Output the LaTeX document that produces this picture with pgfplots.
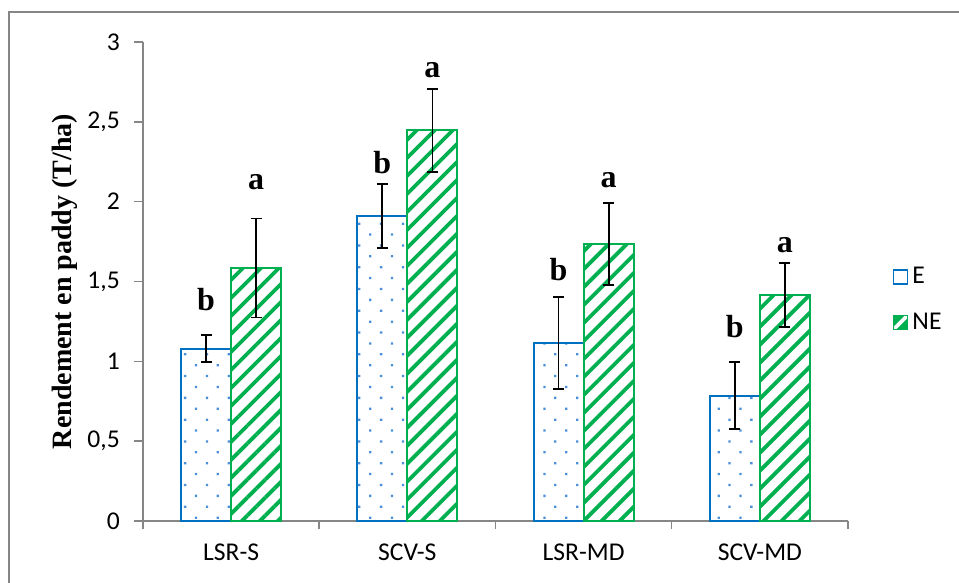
\documentclass[border=0pt]{standalone}
\usepackage{pgfplots}
\pgfplotsset{compat=1.18}
\usepackage{pgfplotstable}
\usepackage{fontspec}
\setmainfont{Carlito}
\newfontfamily\tnr{Liberation Serif}
\usetikzlibrary{patterns.meta}
\definecolor{eblue}{HTML}{0070C0}
\definecolor{dotblue}{HTML}{4A90D9}
\definecolor{negreen}{HTML}{00B050}
\definecolor{axgray}{HTML}{868686}

\pgfplotstableread{
x y e
-0.142 1.08 0.085
0.858 1.91 0.20
1.858 1.115 0.29
2.858 0.785 0.21
}\Edata
\pgfplotstableread{
x y e
0.142 1.585 0.31
1.142 2.448 0.26
2.142 1.735 0.255
3.142 1.415 0.20
}\NEdata

\begin{document}
\begin{tikzpicture}
\useasboundingbox (-71.5pt,-31pt) rectangle (408pt,260.5pt);
\begin{axis}[
  at={(0,0)}, anchor=south west,
  width=352.5pt, height=239.5pt, scale only axis,
  xmin=-0.5, xmax=3.5, ymin=0, ymax=3,
  axis lines*=left,
  x axis line style={axgray, line width=0.75pt, -},
  y axis line style={axgray, line width=0.75pt, -},
  tick align=outside,
  xtick={0,1,2,3},
  xticklabels={LSR-S,SCV-S,LSR-MD,SCV-MD},
  major x tick style={draw=none},
  minor xtick={-0.5,0.5,1.5,2.5,3.5},
  minor x tick style={axgray, line width=0.75pt},
  minor tick length=4pt,
  major tick length=4.5pt,
  ytick={0,0.5,1,1.5,2,2.5,3},
  ytick style={axgray, line width=0.75pt},
  /pgf/number format/use comma,
  /pgf/number format/assume math mode=true,
  tick label style={font=\fontsize{12.8}{15}\selectfont, black},
  xticklabel style={yshift=-3.3pt},
  yticklabel style={xshift=-3.6pt},
  ylabel={Rendement en paddy (T/ha)},
  ylabel style={font=\tnr\bfseries\fontsize{14}{16}\selectfont, at={(axis description cs:-0.1106,0.5)}, anchor=center},
  legend image code/.code={\draw[#1] (0pt,-3.5pt) rectangle (7pt,3.5pt);},
  legend style={draw=none, fill=none, at={(axis description cs:1.06,0.462)}, anchor=west,
    font=\fontsize{12.8}{15}\selectfont, row sep=9pt, inner sep=1pt},
  legend cell align=left,
  clip=false,
]
\addplot[ybar, bar width=0.284, bar shift=0pt, draw=eblue, line width=1pt, fill=white,
  postaction={pattern={Dots[radius=0.8pt, distance=7.7pt, angle=45]}, pattern color=dotblue},
  forget plot,
  error bars/.cd, y dir=both, y explicit,
  error bar style={black, line width=0.9pt},
  error mark options={black, rotate=90, mark size=2.75pt, line width=0.9pt}]
  table[x=x, y=y, y error=e] {\Edata};
\addplot[ybar, bar width=0.284, bar shift=0pt, draw=negreen, line width=1pt, fill=white,
  postaction={pattern={Lines[angle=45, distance=6.36pt, line width=1.9pt]}, pattern color=negreen},
  forget plot,
  error bars/.cd, y dir=both, y explicit,
  error bar style={black, line width=0.9pt},
  error mark options={black, rotate=90, mark size=2.75pt, line width=0.9pt}]
  table[x=x, y=y, y error=e] {\NEdata};
\addlegendimage{draw=eblue, line width=0.9pt, fill=white}
\addlegendentry{E}
\addlegendimage{legend image code/.code={
  \begin{scope}
  \clip (0pt,-3.5pt) rectangle (7pt,3.5pt);
  \fill[negreen] (0pt,-3.5pt) rectangle (7pt,3.5pt);
  \draw[white, line width=1.8pt] (0pt,-3.5pt) -- (7pt,3.5pt);
  \end{scope}
  \draw[negreen, line width=0.9pt] (0pt,-3.5pt) rectangle (7pt,3.5pt);}}
\addlegendentry{NE}
\begin{scope}[every node/.style={font=\tnr\bfseries\fontsize{16}{18}\selectfont}]
\node at (axis cs:-0.142,1.384) {b};
\node at (axis cs:0.142,2.123) {a};
\node at (axis cs:0.858,2.242) {b};
\node at (axis cs:1.142,2.824) {a};
\node at (axis cs:1.858,1.572) {b};
\node at (axis cs:2.142,2.135) {a};
\node at (axis cs:2.858,1.215) {b};
\node at (axis cs:3.142,1.728) {a};
\end{scope}
\end{axis}
\draw[axgray, line width=0.75pt] (-67pt,-40pt) -- (-67pt,254.5pt) -- (420pt,254.5pt);
\end{tikzpicture}
\end{document}
